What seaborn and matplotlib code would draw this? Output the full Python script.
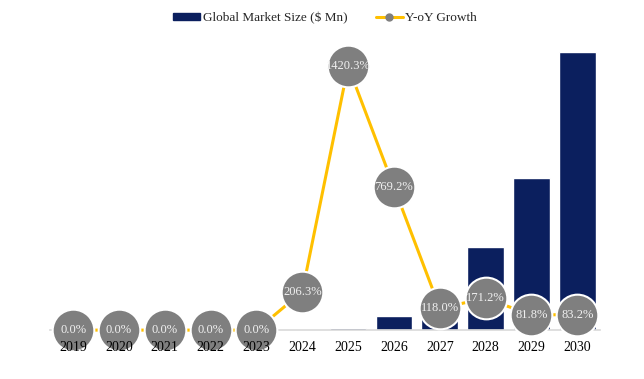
import numpy as np
import pandas as pd
import matplotlib
matplotlib.use("Agg")
import matplotlib.pyplot as plt
import seaborn as sns
from matplotlib.patches import Patch
from matplotlib.lines import Line2D

# datos
years = ["2019", "2020", "2021", "2022", "2023", "2024",
         "2025", "2026", "2027", "2028", "2029", "2030"]
market_size = [0.02, 0.02, 0.02, 0.02, 0.02, 0.06,
               0.93, 8.1, 17.6, 47.8, 86.9, 159.2]
yoy_growth = [0.0, 0.0, 0.0, 0.0, 0.0, 206.3,
              1420.3, 769.2, 118.0, 171.2, 81.8, 83.2]

navy = "#0b1f5e"
gold = "#ffc000"
grey = "#7f7f7f"

sns.set_theme(style="white")
plt.rcParams["font.family"] = ["Liberation Serif", "DejaVu Serif"]

df = pd.DataFrame({"year": years, "size": market_size, "growth": yoy_growth})

fig = plt.figure(figsize=(6.44, 3.79), dpi=100)
ax = fig.add_axes([0.078, 0.129, 0.854, 0.765])

sns.barplot(data=df, x="year", y="size", color=navy, saturation=1,
            width=0.8, ax=ax)
ax.set_xlim(-0.5, len(years) - 0.5)
ax.set_ylim(0, 166)
ax.set_xlabel("")
ax.set_ylabel("")
ax.set_yticks([])
ax.tick_params(axis="x", labelbottom=False, length=0)
for s in ["top", "right", "left"]:
    ax.spines[s].set_visible(False)
ax.spines["bottom"].set_color("#d9d9d9")
ax.spines["bottom"].set_linewidth(1.2)

ax2 = ax.twinx()
pos = np.arange(len(years))
sns.lineplot(x=pos, y=df["growth"], color=gold, linewidth=2.2, ax=ax2,
             marker="o", markersize=30, markerfacecolor=grey,
             markeredgecolor="white", markeredgewidth=1.5, clip_on=False)
ax2.set_ylim(0, 1560)
ax2.set_yticks([])
ax2.set_ylabel("")
for s in ax2.spines.values():
    s.set_visible(False)

# etiquetas de anio por encima de los circulos
ax2.xaxis.set_visible(True)
ax2.tick_params(axis="x", length=0, labelsize=10, pad=8, labelcolor="black",
                labelbottom=True)
ax2.xaxis.set_zorder(10)

for x, g in zip(pos, yoy_growth):
    ax2.text(x, g, f"{g:.1f}%", ha="center", va="center",
             fontsize=9, color="#f0f0f0", zorder=5)

handles = [
    Patch(facecolor=navy, edgecolor=navy),
    Line2D([0], [0], color=gold, linewidth=2.2, marker="o",
           markersize=5, markerfacecolor=grey, markeredgecolor=grey),
]
fig.legend(handles, ["Global Market Size ($ Mn)", "Y-oY Growth"],
           loc="upper center", bbox_to_anchor=(0.505, 1.0), ncol=2,
           frameon=False, fontsize=9.5, handlelength=2.0, handleheight=0.5,
           handletextpad=0.2, columnspacing=2.2)

fig.savefig("out.png", dpi=100)
